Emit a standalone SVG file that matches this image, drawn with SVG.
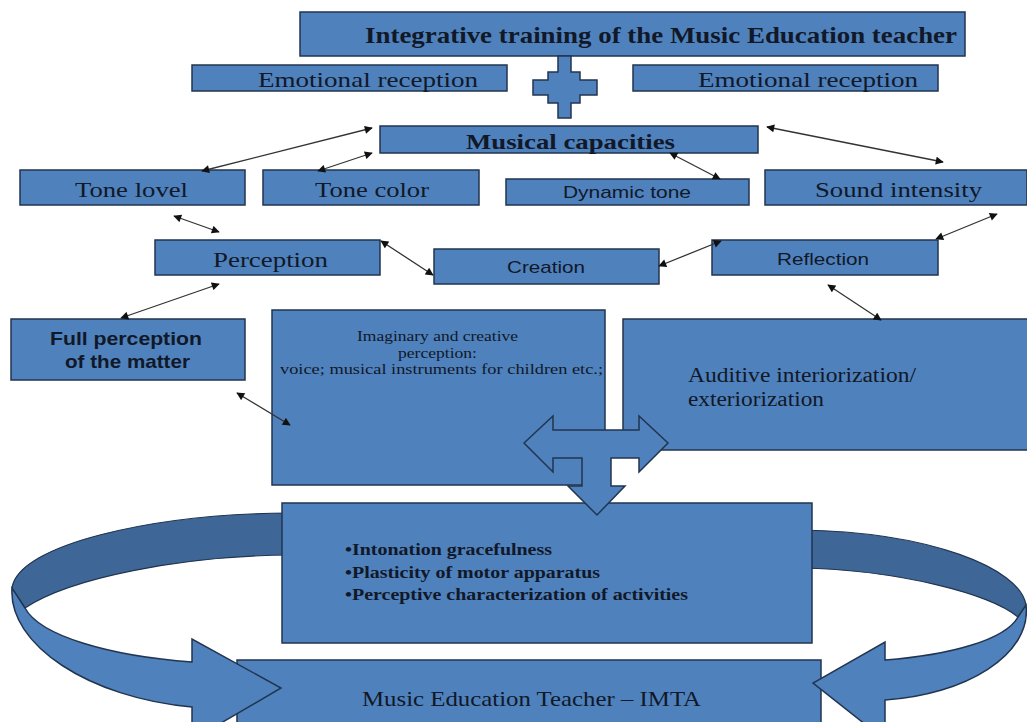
<svg xmlns="http://www.w3.org/2000/svg" width="1027" height="722" viewBox="0 0 1027 722">
<style>
.b{fill:#4F81BD;stroke:#22354f;stroke-width:1.5}
.bd{fill:#3E6798;stroke:#22354f;stroke-width:1.2}
.s{font-family:"Liberation Serif",serif;fill:#111827}
.a{font-family:"Liberation Sans",Arial,sans-serif;fill:#111827}
.c{stroke:#333;stroke-width:1.3;fill:none;marker-start:url(#ah);marker-end:url(#ah)}
</style>
<defs>
<marker id="ah" viewBox="0 0 10 10" refX="9" refY="5" markerWidth="9" markerHeight="8" markerUnits="userSpaceOnUse" orient="auto-start-reverse">
<path d="M0,0 L10,5 L0,10 Z" fill="#111"/>
</marker>
</defs>
<rect width="1027" height="722" fill="#fff"/>

<g id="title"><rect class="b" x="300" y="12" width="665" height="44"/>
<text class="s" x="365" y="43" font-size="23" font-weight="bold" textLength="592" lengthAdjust="spacingAndGlyphs">Integrative training of the Music Education teacher</text></g>

<g id="emo-left"><rect class="b" x="192" y="65" width="315" height="26"/>
<text class="s" x="258" y="87" font-size="21" textLength="220" lengthAdjust="spacingAndGlyphs">Emotional reception</text></g>
<g id="emo-right"><rect class="b" x="633" y="65" width="305" height="26"/>
<text class="s" x="698" y="87" font-size="21" textLength="220" lengthAdjust="spacingAndGlyphs">Emotional reception</text></g>

<g id="plus"><polygon class="b" points="558,56 571,56 571,72 580,72 580,80 597,80 597,95 580,95 580,103 571,103 571,118 558,118 558,103 548,103 548,95 533,95 533,80 548,80 548,72 558,72"/></g>

<g id="musical"><rect class="b" x="380" y="126" width="378" height="27"/>
<text class="s" x="466" y="149" font-size="21" font-weight="bold" textLength="209" lengthAdjust="spacingAndGlyphs">Musical capacities</text></g>

<g id="tone-lovel"><rect class="b" x="20" y="170" width="225" height="35"/>
<text class="s" x="75" y="197" font-size="22" textLength="113" lengthAdjust="spacingAndGlyphs">Tone lovel</text></g>
<g id="tone-color"><rect class="b" x="263" y="170" width="216" height="35"/>
<text class="s" x="315" y="197" font-size="22" textLength="114" lengthAdjust="spacingAndGlyphs">Tone color</text></g>
<g id="dynamic"><rect class="b" x="506" y="179" width="243" height="26"/>
<text class="a" x="563" y="198" font-size="17" textLength="128" lengthAdjust="spacingAndGlyphs">Dynamic tone</text></g>
<g id="sound"><rect class="b" x="765" y="170" width="262" height="35"/>
<text class="s" x="815" y="197" font-size="22" textLength="167" lengthAdjust="spacingAndGlyphs">Sound intensity</text></g>

<g id="perception"><rect class="b" x="155" y="240" width="225" height="35"/>
<text class="s" x="213" y="267" font-size="22" textLength="115" lengthAdjust="spacingAndGlyphs">Perception</text></g>
<g id="creation"><rect class="b" x="434" y="249" width="225" height="35"/>
<text class="a" x="507" y="273" font-size="17" textLength="78" lengthAdjust="spacingAndGlyphs">Creation</text></g>
<g id="reflection"><rect class="b" x="712" y="240" width="226" height="35"/>
<text class="a" x="777" y="265" font-size="17" textLength="92" lengthAdjust="spacingAndGlyphs">Reflection</text></g>

<g id="full"><rect class="b" x="11" y="319" width="234" height="61"/>
<text class="a" x="50" y="345" font-size="19" font-weight="bold" textLength="152" lengthAdjust="spacingAndGlyphs">Full perception</text>
<text class="a" x="65" y="368" font-size="19" font-weight="bold" textLength="125" lengthAdjust="spacingAndGlyphs">of the matter</text></g>

<g id="imaginary"><rect class="b" x="272" y="310" width="333" height="175"/>
<text class="s" x="357" y="341" font-size="14" textLength="161" lengthAdjust="spacingAndGlyphs">Imaginary and creative</text>
<text class="s" x="398" y="358" font-size="14" textLength="79" lengthAdjust="spacingAndGlyphs">perception:</text>
<text class="s" x="280" y="374" font-size="14" textLength="323" lengthAdjust="spacingAndGlyphs">voice; musical instruments for children etc.;</text></g>

<g id="auditive"><rect class="b" x="623" y="319" width="406" height="131"/>
<text class="s" x="688" y="382" font-size="20" textLength="228" lengthAdjust="spacingAndGlyphs">Auditive interiorization/</text>
<text class="s" x="688" y="406" font-size="20" textLength="136" lengthAdjust="spacingAndGlyphs">exteriorization</text></g>

<g id="imta"><rect class="b" x="237" y="660" width="584" height="70"/>
<text class="s" x="362" y="706" font-size="22" textLength="339" lengthAdjust="spacingAndGlyphs">Music Education Teacher – IMTA</text></g>

<g id="loop-left">
<path class="bd" d="M290,513 C150,514 18,545 12,588 L25,608 C70,578 180,556 290,555 Z"/>
<path class="b" d="M12,588 C8,645 90,698 192,707 L192,740 L281,688 L192,639 L192,662 C110,656 40,636 25,608 Z"/>
</g>
<g id="loop-right">
<path class="bd" d="M800,530 C930,532 1020,568 1026,605 L1018,617 C990,594 900,570 800,568 Z"/>
<path class="b" d="M1026,605 C1032,655 965,695 885,700 L885,740 L813,683 L885,642 L885,660 C950,655 1005,640 1018,617 Z"/>
</g>

<g id="bullets"><rect class="b" x="282" y="503" width="530" height="140"/>
<text class="s" x="345" y="555" font-size="16" font-weight="bold" textLength="207" lengthAdjust="spacingAndGlyphs">•Intonation gracefulness</text>
<text class="s" x="345" y="578" font-size="16" font-weight="bold" textLength="255" lengthAdjust="spacingAndGlyphs">•Plasticity of motor apparatus</text>
<text class="s" x="345" y="600" font-size="16" font-weight="bold" textLength="343" lengthAdjust="spacingAndGlyphs">•Perceptive characterization of activities</text></g>

<g id="tri-arrow"><polygon class="b" points="524,443 553,416 553,430 639,430 639,416 668,443 639,472 639,458 611,458 611,486 625,486 597,515 568,486 582,486 582,458 553,458 553,472"/></g>

<g id="connectors">
<line class="c" x1="372" y1="128" x2="202" y2="171"/>
<line class="c" x1="372" y1="153" x2="318" y2="171"/>
<line class="c" x1="174" y1="216" x2="219" y2="232"/>
<line class="c" x1="381" y1="241" x2="433" y2="275"/>
<line class="c" x1="219" y1="284" x2="121" y2="318"/>
<line class="c" x1="237" y1="393" x2="290" y2="425"/>
<line class="c" x1="670" y1="153" x2="720" y2="179"/>
<line class="c" x1="767" y1="127" x2="943" y2="162"/>
<line class="c" x1="659" y1="266" x2="721" y2="241"/>
<line class="c" x1="936" y1="239" x2="997" y2="214"/>
<line class="c" x1="828" y1="285" x2="881" y2="320"/>
</g>
</svg>
